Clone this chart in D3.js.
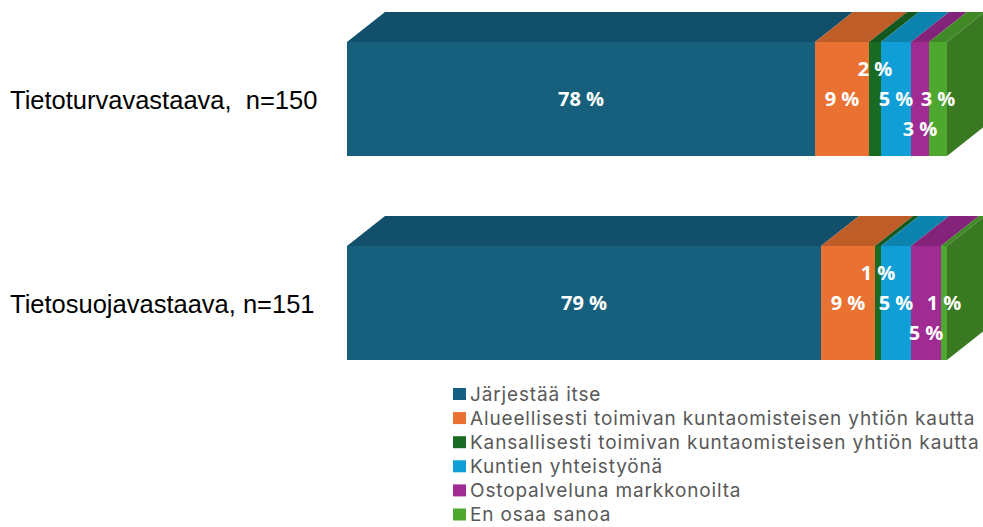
<!DOCTYPE html>
<html>
<head>
<meta charset="utf-8">
<script src="https://cdn.jsdelivr.net/npm/d3@7"></script>
<style>
  body { margin: 0; background: #fff; }
  svg { display: block; }
</style>
</head>
<body>
<div id="chart"></div>
<script>
// categories (rows) and series
const categories = ['Tietoturvavastaava,  n=150', 'Tietosuojavastaava, n=151'];
const seriesNames = [
    'Järjestää itse',
    'Alueellisesti toimivan kuntaomisteisen yhtiön kautta',
    'Kansallisesti toimivan kuntaomisteisen yhtiön kautta',
    'Kuntien yhteistyönä',
    'Ostopalveluna markkonoilta',
    'En osaa sanoa'
];
const tietoturvaValues = [78, 9, 2, 5, 3, 3];
const tietosuojaValues = [79, 9, 1, 5, 5, 1];
const seriesColors = ['#156082', '#e97132', '#196b24', '#0f9ed5', '#a02b93', '#4ea72e'];
// small labels are nudged up / down like in the original
const labelShift = [0, 0, -1, 0, 1, 0];

const width = 983, height = 527;
const depth = { dx: 38, dy: -30 };

const svg = d3.select('#chart').append('svg')
    .attr('width', width)
    .attr('height', height);

const xScale = d3.scaleLinear()
    .domain([0, 100])
    .range([347, 947]);

const yScale = d3.scaleBand()
    .domain(categories)
    .range([-3, 405])
    .paddingInner(90 / 204)
    .paddingOuter(45 / 204);

const rows = [tietoturvaValues, tietosuojaValues].map((vals, i) => {
    let acc = 0;
    const segs = vals.map((v, j) => {
        const s = { cat: categories[i], key: j, value: v, x0: acc, x1: acc + v };
        acc += v;
        return s;
    });
    return { cat: categories[i], segs: segs };
});

const shade = (c, k) => d3.color(c).darker(k).formatHex();

const barsG = svg.append('g').attr('class', 'bars');

rows.forEach(row => {
    const g = barsG.append('g');
    const y0 = yScale(row.cat);
    const bh = yScale.bandwidth();

    // top faces
    g.selectAll('.top')
        .data(row.segs)
        .join('path')
        .attr('class', 'top')
        .attr('fill', d => shade(seriesColors[d.key], 0.55))
        .attr('d', d => {
            const a = xScale(d.x0), b = xScale(d.x1);
            return `M${a},${y0}L${a + depth.dx},${y0 + depth.dy}L${b + depth.dx},${y0 + depth.dy}L${b},${y0}Z`;
        });

    // side face of the last segment
    const last = row.segs[row.segs.length - 1];
    const r = xScale(last.x1);
    g.append('path')
        .attr('fill', shade(seriesColors[last.key], 0.9))
        .attr('d', `M${r},${y0}L${r + depth.dx},${y0 + depth.dy}L${r + depth.dx},${y0 + bh + depth.dy}L${r},${y0 + bh}Z`);

    // front faces
    g.selectAll('.front')
        .data(row.segs)
        .join('rect')
        .attr('class', 'front')
        .attr('x', d => xScale(d.x0))
        .attr('y', y0)
        .attr('width', d => xScale(d.x1) - xScale(d.x0))
        .attr('height', bh)
        .attr('fill', d => d.key === 0 ? '#17607d' : seriesColors[d.key]);

    // value labels
    g.selectAll('.lbl')
        .data(row.segs)
        .join('text')
        .attr('class', 'lbl')
        .attr('x', d => (xScale(d.x0) + xScale(d.x1)) / 2)
        .attr('y', d => y0 + bh / 2 + labelShift[d.key] * 30)
        .attr('dy', '0.35em')
        .attr('text-anchor', 'middle')
        .style('font-family', 'Open Sans, sans-serif')
        .style('font-weight', 'bold')
        .style('font-size', '20px')
        .attr('fill', '#fff')
        .text(d => d.value + ' %');
});

// category labels
svg.selectAll('.cat')
    .data(categories)
    .join('text')
    .attr('class', 'cat')
    .attr('x', 10)
    .attr('y', d => yScale(d) + yScale.bandwidth() / 2 + 1)
    .attr('dy', '0.35em')
    .style('font-family', 'Liberation Sans, Arial, sans-serif')
    .style('font-size', '25.5px')
    .style('white-space', 'pre')
    .attr('fill', '#000')
    .text(d => d);

// legend
const legend = svg.append('g')
    .attr('transform', 'translate(453,394)');

const items = legend.selectAll('.item')
    .data(seriesNames)
    .join('g')
    .attr('class', 'item')
    .attr('transform', (d, i) => `translate(0,${i * 24.1})`);

items.append('rect')
    .attr('x', 0)
    .attr('y', -6)
    .attr('width', 13)
    .attr('height', 12)
    .attr('fill', (d, i) => seriesColors[i]);

items.append('text')
    .attr('x', 17)
    .attr('y', 0)
    .attr('dy', '0.35em')
    .style('font-family', 'Inter, sans-serif')
    .style('font-size', '19px')
    .style('letter-spacing', '0.85px')
    .attr('fill', '#595959')
    .text(d => d);
</script>
</body>
</html>
